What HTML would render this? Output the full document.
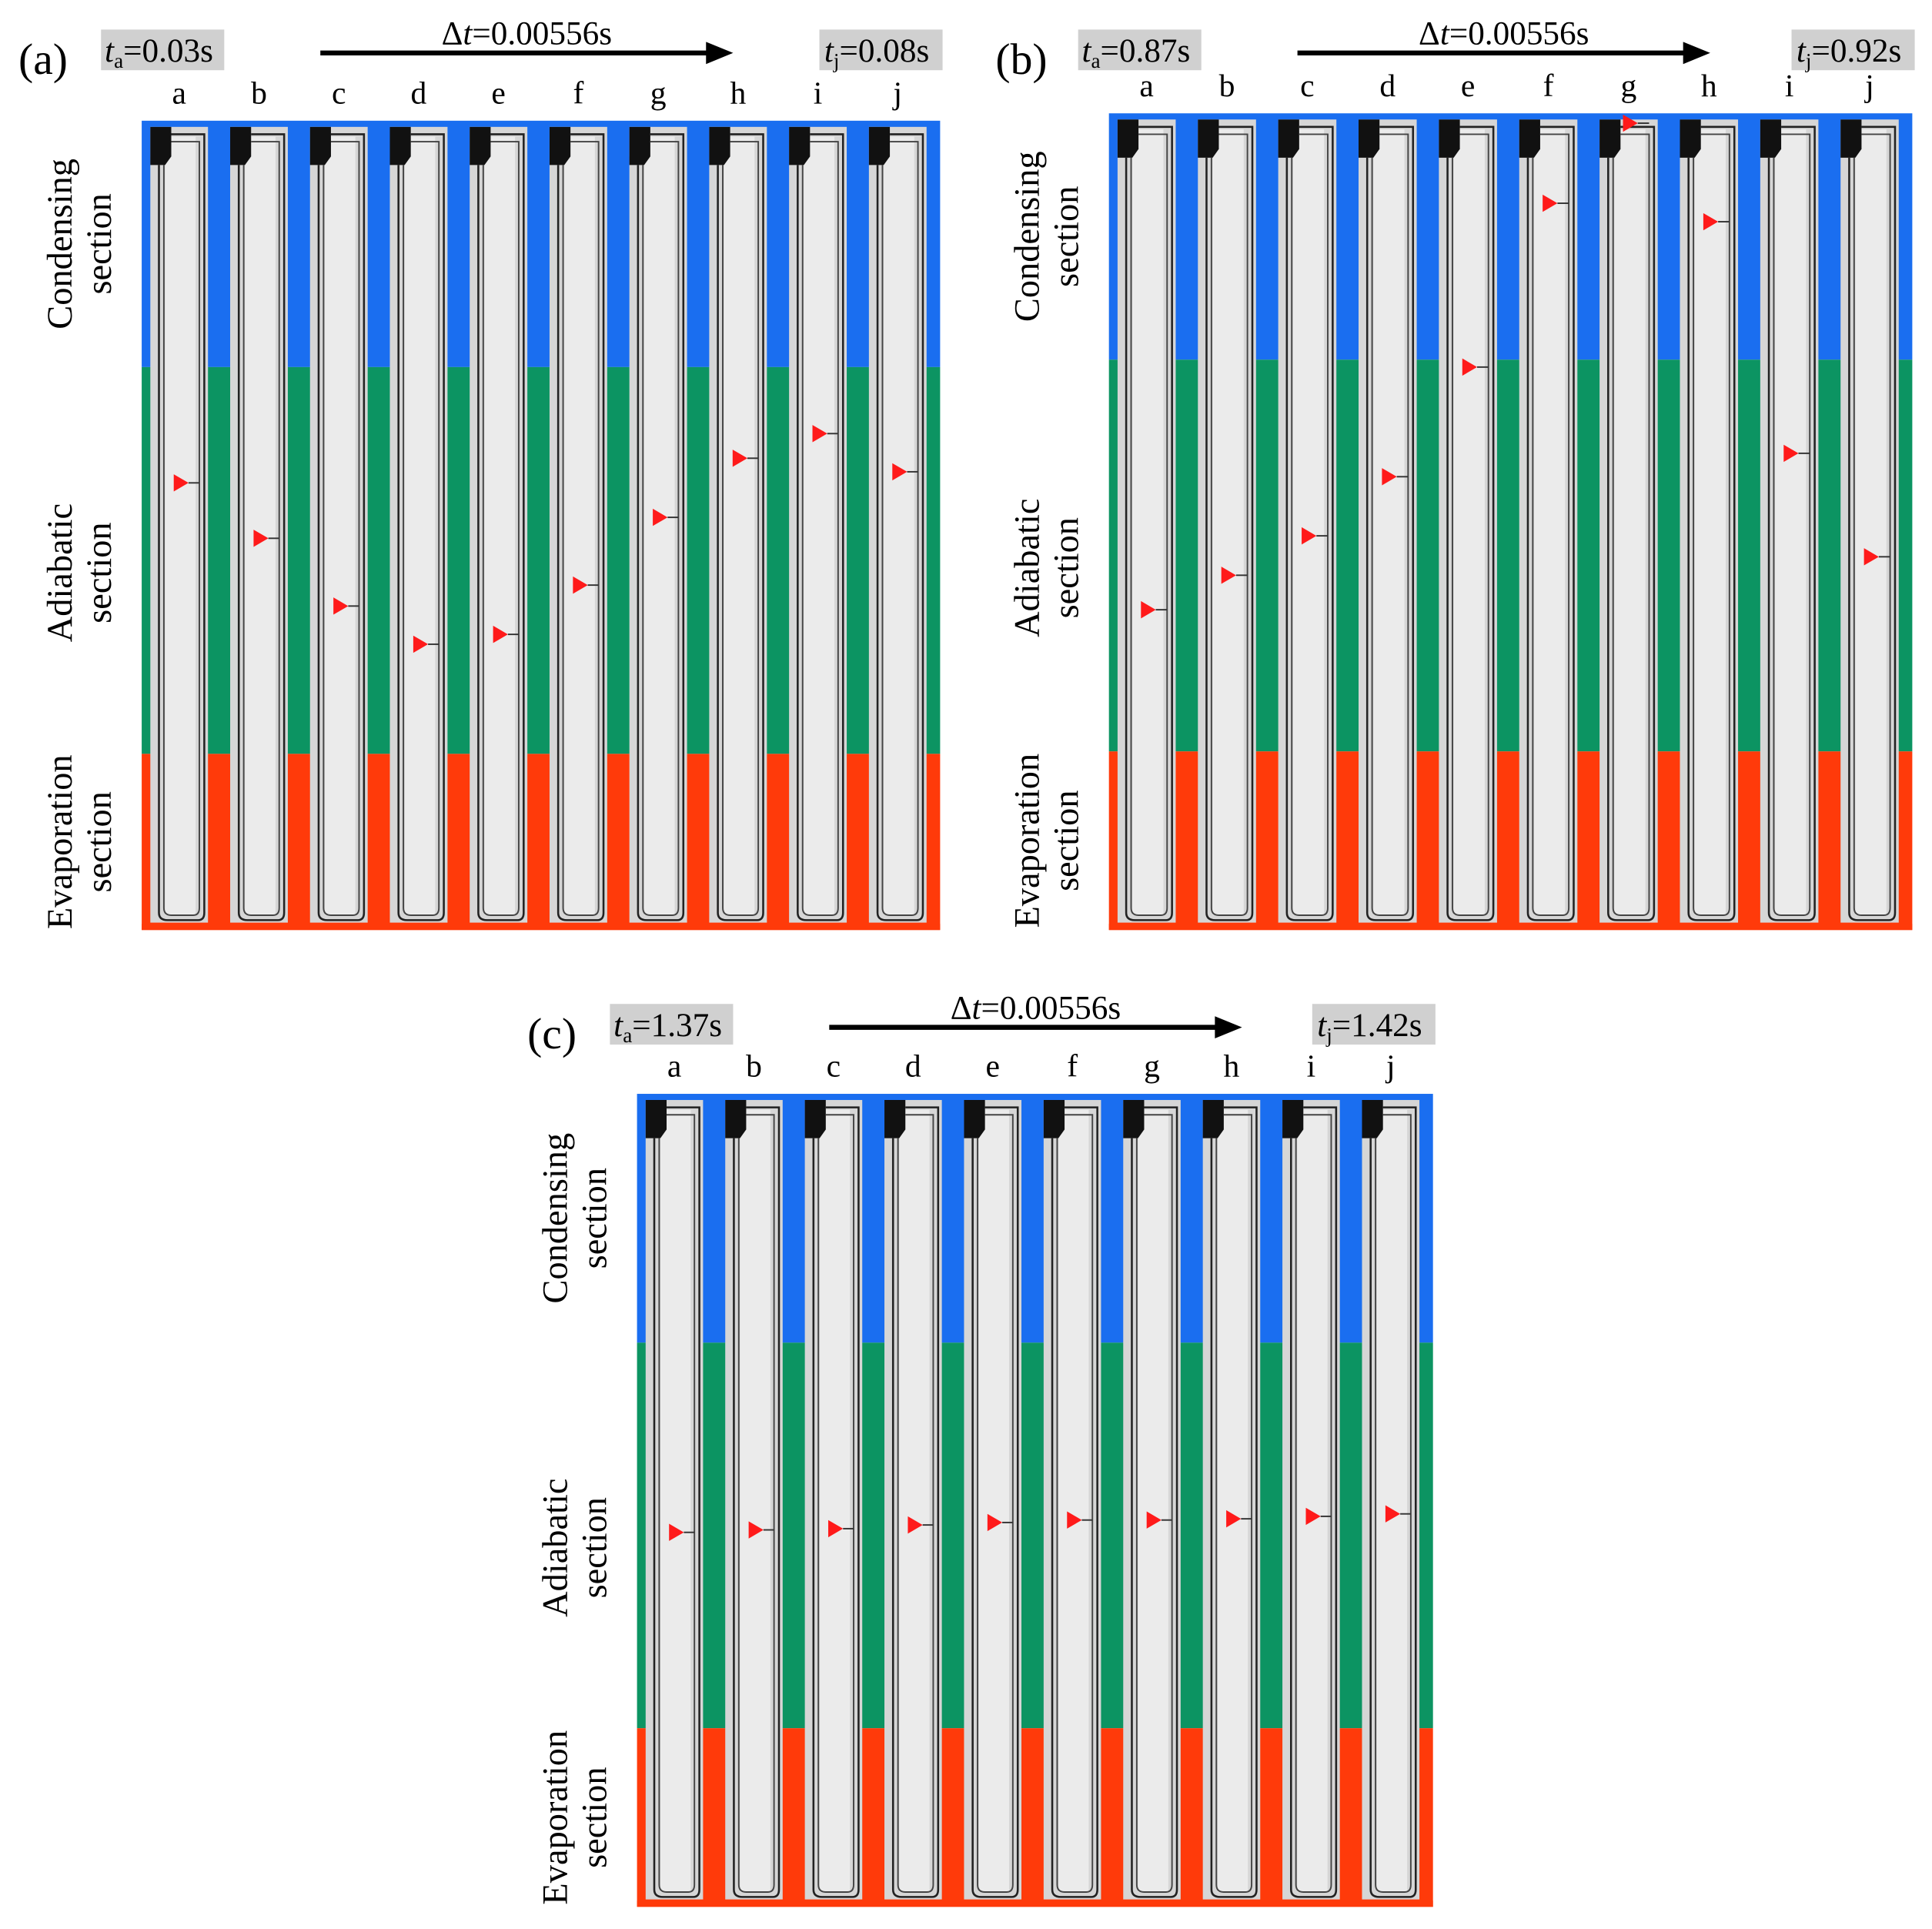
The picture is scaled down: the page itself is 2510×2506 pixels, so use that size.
<!DOCTYPE html>
<html><head><meta charset="utf-8">
<style>
html,body{margin:0;padding:0;background:#fff;}
svg{display:block;}
text,tspan{font-family:"Liberation Serif","DejaVu Serif",serif;fill:#000;}
</style></head>
<body>
<svg id="fig" width="2510" height="2506" viewBox="0 0 1568 1566" preserveAspectRatio="none" xmlns="http://www.w3.org/2000/svg"></svg>
<script>
// Data: slug marker vertical positions (display px) per frame a..j for each panel
const frameLabels = ["a","b","c","d","e","f","g","h","i","j"];
const panelIds = ["a","b","c"];
const startTimes = ["0.03","0.87","1.37"];
const endTimes = ["0.08","0.92","1.42"];
const dtLabel = "0.00556s";
const markersA = [392,437,492,523,515,475,420,372,352,383];
const markersB = [495,467,435,387,298,165,100,180,368,452];
const markersC = [1244,1242,1241,1238,1236,1234,1234,1233,1231,1229];

const layouts = [
 {x0:115,x1:763,top:98,cond:298,adi:612,bot:755,hy:42,lx:15},
 {x0:900,x1:1552,top:92,cond:292,adi:610,bot:755,hy:42,lx:808},
 {x0:517,x1:1163,top:888,cond:1090,adi:1403,bot:1548,hy:833,lx:428}
];
const markerSets=[markersA,markersB,markersC];
const NS="http://www.w3.org/2000/svg";
const FONT='"Liberation Serif", "DejaVu Serif", serif';
const svg=document.getElementById('fig');
function el(tag,attrs,parent){const e=document.createElementNS(NS,tag);for(const k in attrs)e.setAttribute(k,attrs[k]);if(tag==='text')e.setAttribute('font-family',FONT);(parent||svg).appendChild(e);return e;}

layouts.forEach((L,p)=>{
  const g=el('g',{});
  
  
  const W=L.x1-L.x0, pitch=W/10;
  const bc=el('rect',{x:L.x0,y:L.top,width:W,height:L.cond-L.top,fill:'#1a6ef0'},g);
  
  const ba=el('rect',{x:L.x0,y:L.cond,width:W,height:L.adi-L.cond,fill:'#0c9462'},g);
  
  const be=el('rect',{x:L.x0,y:L.adi,width:W,height:L.bot-L.adi,fill:'#ff3a0a'},g);
  
  for(let i=0;i<10;i++){
    const tx=L.x0+7+i*pitch, tw=pitch-18, ty=L.top+5, tb=L.bot-6;
    const t=el('g',{},g);
    
    
    el('rect',{x:tx,y:ty,width:tw,height:tb-ty,fill:'#d6d6d6'},t);
    el('rect',{x:tx+12,y:ty+8,width:tw-22,height:tb-ty-14,fill:'#ebebeb'},t);
    el('path',{d:`M${tx} ${ty} h17 v24 l-5 7 h-12 z`,fill:'#111'},t);
    el('path',{d:`M${tx+7} ${ty+31} V${tb-8} Q${tx+7} ${tb-2} ${tx+14} ${tb-2} H${tw+tx-8} Q${tx+tw-3} ${tb-2} ${tx+tw-3} ${tb-8} V${ty+6} H${tx+17}`,fill:'none',stroke:'#222','stroke-width':1.6},t);
    el('path',{d:`M${tx+11} ${ty+31} V${tb-12} Q${tx+11} ${tb-6} ${tx+17} ${tb-6} H${tx+tw-12} Q${tx+tw-7} ${tb-6} ${tx+tw-7} ${tb-12} V${ty+12} H${tx+17}`,fill:'none',stroke:'#444','stroke-width':1.2},t);
    const my=markerSets[p][i], mx=tx+19;
    const m=el('path',{d:`M${mx} ${my-7} L${mx+12} ${my} L${mx} ${my+7} Z`,fill:'#ff1a1a'},t);
    
    
    el('path',{d:`M${mx+12} ${my} H${tx+tw-7}`,stroke:'#333','stroke-width':1.2},t);
    const lab=el('text',{x:tx+tw/2,y:L.top-14,'font-size':26,'text-anchor':'middle'},g);
    lab.textContent=frameLabels[i];
    
    
  }
  el('rect',{x:L.x0,y:L.bot-5,width:W,height:5,fill:'#ff3a0a'},g);
  const hy=L.hy;
  const pl=el('text',{x:L.lx,y:hy+18,'font-size':36},g);pl.textContent='('+panelIds[p]+')';
  
  const bx1=L.lx+67;
  el('rect',{x:bx1,y:hy-18,width:100,height:33,fill:'#d0d0d0'},g);
  const t1=el('text',{x:bx1+3,y:hy+8,'font-size':27},g);
  t1.innerHTML='<tspan font-style="italic">t</tspan><tspan font-size="17" dy="5">a</tspan><tspan dy="-5">='+startTimes[p]+'s</tspan>';
  
  const ax0=L.lx+245, ax1=L.lx+560;
  el('line',{x1:ax0,y1:hy+1,x2:ax1,y2:hy+1,stroke:'#000','stroke-width':4},g);
  const ah=el('path',{d:`M${ax1-2} ${hy-8} L${ax1+20} ${hy+1} L${ax1-2} ${hy+10} Z`,fill:'#000'},g);
  
  const dt=el('text',{x:(ax0+ax1)/2+10,y:hy-6,'font-size':27,'text-anchor':'middle'},g);
  dt.innerHTML='Δ<tspan font-style="italic">t</tspan>='+dtLabel;
  
  const bx2=L.x1-98;
  el('rect',{x:bx2,y:hy-18,width:100,height:33,fill:'#d0d0d0'},g);
  const t2=el('text',{x:bx2+4,y:hy+8,'font-size':27},g);
  t2.innerHTML='<tspan font-style="italic">t</tspan><tspan font-size="17" dy="5">j</tspan><tspan dy="-5">='+endTimes[p]+'s</tspan>';
  
  const lx=L.x0-57;
  const secs=[['Condensing','section',(L.top+L.cond)/2],['Adiabatic','section',(L.cond+L.adi)/2+10],['Evaporation','section',(L.adi+L.bot)/2]];
  secs.forEach((s,k)=>{
    const st=el('text',{transform:`translate(${lx},${s[2]}) rotate(-90)`,'font-size':29,'text-anchor':'middle'},g);
    st.innerHTML=`<tspan x="0" dy="0">${s[0]}</tspan><tspan x="0" dy="32">${s[1]}</tspan>`;
    
    
  });
});
</script>
</body></html>
